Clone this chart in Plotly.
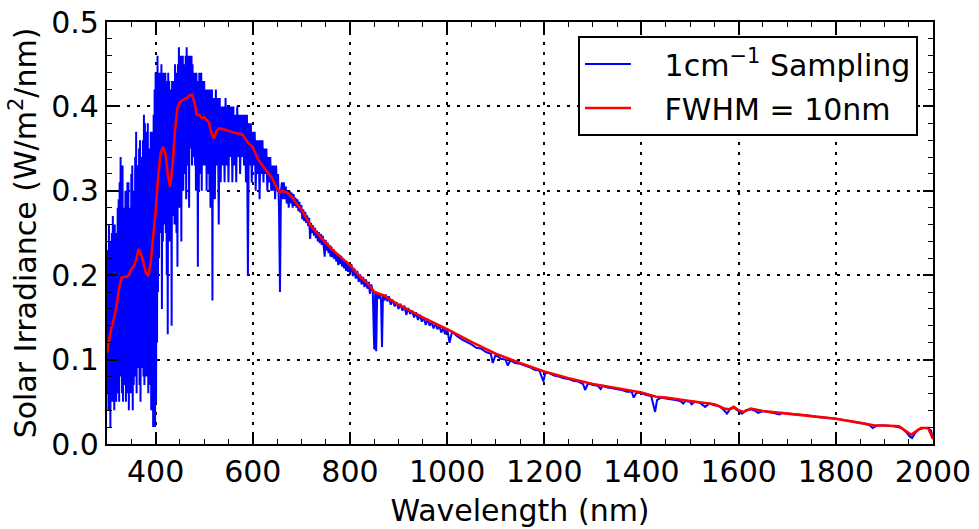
import numpy as np
import plotly.graph_objects as go

# ---- Data ----
# Blue (1 cm^-1 sampling), UV/blue part: one sample per nm, 300..519 nm
uv_wl = np.arange(300, 520, 1)
uv_val = [
    0.21, 0.06, 0.23, 0.04, 0.26, 0.08, 0.20, 0.02, 0.24, 0.06,
    0.25, 0.05, 0.27, 0.09, 0.22, 0.04, 0.26, 0.07, 0.24, 0.05,
    0.25, 0.08, 0.28, 0.06, 0.29, 0.05, 0.31, 0.09, 0.34, 0.08,
    0.30, 0.06, 0.33, 0.05, 0.28, 0.09, 0.27, 0.07, 0.30, 0.05,
    0.29, 0.08, 0.31, 0.06, 0.31, 0.04, 0.27, 0.09, 0.28, 0.06,
    0.32, 0.08, 0.33, 0.04, 0.29, 0.07, 0.30, 0.09, 0.34, 0.08,
    0.37, 0.06, 0.33, 0.10, 0.32, 0.09, 0.35, 0.07, 0.36, 0.05,
    0.34, 0.09, 0.33, 0.10, 0.36, 0.08, 0.39, 0.07, 0.38, 0.10,
    0.36, 0.08, 0.37, 0.10, 0.38, 0.06, 0.35, 0.09, 0.34, 0.07,
    0.37, 0.04, 0.35, 0.08, 0.37, 0.02, 0.39, 0.03, 0.42, 0.02,
    0.44, 0.05, 0.43, 0.12, 0.46, 0.18, 0.44, 0.22, 0.42, 0.25,
    0.44, 0.27, 0.45, 0.16, 0.43, 0.24, 0.44, 0.26, 0.43, 0.29,
    0.44, 0.25, 0.43, 0.20, 0.42, 0.13, 0.44, 0.25, 0.43, 0.24,
    0.41, 0.27, 0.42, 0.14, 0.43, 0.28, 0.41, 0.27, 0.43, 0.26,
    0.45, 0.30, 0.44, 0.25, 0.44, 0.21, 0.45, 0.28, 0.47, 0.30,
    0.45, 0.28, 0.46, 0.24, 0.45, 0.31, 0.46, 0.30, 0.44, 0.32,
    0.45, 0.33, 0.46, 0.29, 0.47, 0.33, 0.46, 0.34, 0.46, 0.28,
    0.46, 0.35, 0.45, 0.36, 0.46, 0.33, 0.45, 0.34, 0.44, 0.35,
    0.44, 0.33, 0.44, 0.30, 0.44, 0.34, 0.43, 0.21, 0.43, 0.30,
    0.44, 0.32, 0.43, 0.34, 0.44, 0.30, 0.43, 0.35, 0.43, 0.33,
    0.43, 0.34, 0.42, 0.33, 0.42, 0.30, 0.42, 0.34, 0.42, 0.32,
    0.42, 0.30, 0.42, 0.28, 0.41, 0.33, 0.42, 0.17, 0.41, 0.29,
]

# Blue, visible part: one sample every 2 nm, 520..698 nm
vis_wl = np.arange(520, 700, 2)
vis_val = [
    0.41, 0.29, 0.42, 0.33, 0.41, 0.26, 0.41, 0.31, 0.40, 0.33,
    0.40, 0.31, 0.41, 0.33, 0.40, 0.31, 0.40, 0.34, 0.40, 0.31,
    0.40, 0.33, 0.39, 0.31, 0.40, 0.34, 0.39, 0.32, 0.39, 0.34,
    0.39, 0.33, 0.39, 0.31, 0.39, 0.20, 0.38, 0.33, 0.38, 0.31,
    0.37, 0.33, 0.37, 0.30, 0.36, 0.32, 0.36, 0.29, 0.36, 0.32,
    0.36, 0.31, 0.35, 0.32, 0.35, 0.30, 0.34, 0.31, 0.34, 0.30,
    0.33, 0.30, 0.33, 0.29, 0.33, 0.30, 0.32, 0.28, 0.18, 0.30,
    0.31, 0.29, 0.31, 0.29, 0.305, 0.285, 0.30, 0.28, 0.30, 0.285,
    0.298, 0.28, 0.296, 0.282, 0.292, 0.28, 0.29, 0.276, 0.287, 0.274,
]

# Blue, near infrared: (wavelength nm, irradiance) samples incl. absorption lines
ir_pts = [
    (700, .283), (702, .266), (704, .278), (706, .264), (708, .275), (710, .262), (712, .271), (714, .258),
    (716, .268), (718, .243), (720, .262), (722, .250), (724, .259), (726, .247), (728, .256), (730, .244),
    (732, .253), (734, .240), (736, .251), (738, .238), (740, .249), (742, .236), (744, .247), (746, .234),
    (748, .222), (750, .242), (752, .229), (754, .239), (756, .226), (758, .236), (760, .222), (762, .234),
    (764, .221), (766, .231), (768, .219), (770, .228), (772, .216), (774, .226), (776, .212), (778, .224),
    (780, .213), (782, .223), (784, .210), (786, .220), (788, .208), (790, .218), (792, .205), (794, .216),
    (796, .204), (798, .214), (800, .202), (803, .213), (806, .199), (809, .208), (812, .196), (815, .205),
    (818, .192), (821, .201), (824, .189), (827, .198), (830, .186), (833, .195), (836, .184), (839, .192),
    (841, .178), (844, .189), (847, .180), (850, .112), (852, .181), (854, .110), (856, .178), (859, .172),
    (862, .178), (864, .170), (866, .115), (868, .177), (871, .170), (874, .177), (877, .169), (880, .175),
    (884, .165), (888, .171), (892, .163), (896, .168), (900, .160), (904, .166), (908, .158), (912, .164),
    (916, .153), (920, .161), (924, .154), (928, .158), (932, .150), (936, .156), (940, .147), (944, .153),
    (948, .145), (952, .150), (956, .141), (960, .148), (964, .140), (968, .145), (972, .137), (976, .143),
    (980, .136), (984, .140), (988, .132), (992, .138), (996, .130), (1000, .137), (1005, .120), (1010, .133),
    (1020, .128), (1030, .124), (1040, .121), (1050, .118), (1060, .114), (1070, .113), (1080, .109), (1090, .107),
    (1094, .096), (1100, .106), (1110, .101), (1120, .100), (1125, .093), (1130, .099), (1140, .096), (1150, .095),
    (1160, .093), (1170, .091), (1180, .088), (1190, .087), (1198, .074), (1202, .084), (1210, .084), (1220, .081),
    (1230, .080), (1240, .078), (1250, .077), (1260, .075), (1270, .074), (1280, .071), (1284, .064), (1290, .072),
    (1300, .070), (1310, .069), (1316, .065), (1320, .069), (1330, .067), (1340, .066), (1350, .065), (1360, .064),
    (1370, .062), (1380, .062), (1384, .055), (1390, .061), (1400, .060), (1410, .058), (1420, .057), (1428, .038),
    (1432, .052), (1440, .055), (1450, .054), (1460, .053), (1470, .052), (1480, .051), (1486, .048), (1490, .051),
    (1500, .050), (1503, .047), (1510, .050), (1520, .049), (1531, .044), (1540, .048), (1550, .046), (1560, .045),
    (1570, .040), (1576, .036), (1582, .041), (1590, .043), (1600, .039), (1607, .036), (1615, .040), (1625, .041),
    (1635, .039), (1640, .037), (1650, .039), (1660, .038), (1670, .037), (1684, .035), (1690, .037), (1700, .036),
    (1720, .035), (1740, .034), (1760, .032), (1780, .031), (1800, .030), (1820, .028), (1840, .026), (1860, .024),
    (1870, .022), (1876, .019), (1885, .022), (1900, .022), (1920, .021), (1935, .019), (1945, .014), (1952, .009),
    (1957, .007), (1962, .012), (1970, .017), (1980, .019), (1990, .019), (1996, .016), (2000, .006),
]

# Red (FWHM = 10 nm smoothed spectrum)
red_wl = [
    300, 305, 310, 315, 320, 325, 330, 335, 340, 345, 350, 355, 360, 365, 370, 375,
    380, 385, 390, 395, 400, 405, 410, 415, 420, 425, 430, 435, 440, 445, 450, 455,
    460, 465, 470, 475, 480, 485, 490, 495, 500, 505, 510, 515, 520, 525, 530, 540,
    550, 560, 570, 580, 590, 600, 610, 620, 630, 640, 650, 656, 660, 670, 680, 690,
    700, 720, 740, 760, 780, 800, 820, 840, 850, 860, 870, 900, 950, 1000, 1050, 1100,
    1150, 1200, 1250, 1300, 1350, 1400, 1430, 1450, 1500, 1550, 1570, 1580, 1590, 1600,
    1610, 1625, 1650, 1700, 1750, 1800, 1850, 1880, 1900, 1930, 1945, 1955, 1965, 1975,
    1990, 2000,
]
red_val = [
    0.108, 0.125, 0.140, 0.150, 0.165, 0.185, 0.197, 0.198, 0.198, 0.200, 0.207, 0.210, 0.218, 0.231, 0.225, 0.215,
    0.203, 0.199, 0.215, 0.245, 0.275, 0.315, 0.343, 0.352, 0.345, 0.320, 0.305, 0.330, 0.372, 0.398, 0.405, 0.407,
    0.409, 0.410, 0.413, 0.414, 0.405, 0.390, 0.390, 0.386, 0.387, 0.384, 0.381, 0.368, 0.362, 0.370, 0.374, 0.373,
    0.371, 0.369, 0.368, 0.366, 0.357, 0.352, 0.338, 0.330, 0.322, 0.315, 0.303, 0.298, 0.300, 0.298, 0.293, 0.285,
    0.278, 0.258, 0.245, 0.232, 0.222, 0.212, 0.199, 0.188, 0.180, 0.178, 0.176, 0.165, 0.150, 0.136, 0.121, 0.107,
    0.096, 0.086, 0.078, 0.071, 0.066, 0.061, 0.056, 0.055, 0.051, 0.047, 0.042, 0.041, 0.044, 0.040,
    0.038, 0.042, 0.039, 0.036, 0.033, 0.030, 0.025, 0.022, 0.022, 0.021, 0.015, 0.011, 0.015, 0.019,
    0.019, 0.006,
]

x_ticks = [400, 600, 800, 1000, 1200, 1400, 1600, 1800, 2000]
y_ticks = [0.0, 0.1, 0.2, 0.3, 0.4, 0.5]

blue_wl = list(uv_wl) + list(vis_wl) + [p[0] for p in ir_pts]
blue_val = list(uv_val) + list(vis_val) + [p[1] for p in ir_pts]

FONT = "DejaVu Sans"
FS = 30
NB = "\u00a0\u00a0\u00a0"

fig = go.Figure()
fig.add_trace(go.Scatter(
    x=blue_wl, y=blue_val, mode="lines",
    line=dict(color="#0000ff", width=2, simplify=False),
    name=NB + "1cm<sup>\u22121</sup> Sampling", legendgroup="a",
))
fig.add_trace(go.Scatter(
    x=red_wl, y=red_val, mode="lines",
    line=dict(color="#ff0000", width=2.6, simplify=False),
    name=NB + "FWHM = 10nm", legendgroup="b",
))

axis_common = dict(
    showline=True, linecolor="black", linewidth=2.2, mirror="allticks",
    ticks="inside", ticklen=10, tickwidth=1.5, tickcolor="black",
    showgrid=True, gridcolor="black", gridwidth=1.5, griddash="3px,7px",
    zeroline=False, automargin=False,
    tickfont=dict(family=FONT, size=FS, color="black"),
)

fig.update_xaxes(
    range=[300, 2000], tickvals=x_ticks, ticktext=[str(v) for v in x_ticks],
    title=dict(text="Wavelength (nm)", font=dict(family=FONT, size=FS, color="black"), standoff=12),
    minor=dict(dtick=50, tick0=0, ticks="inside", ticklen=5, tickwidth=1.2, tickcolor="black", showgrid=False),
    **axis_common,
)
fig.update_yaxes(
    range=[0, 0.5], tickvals=y_ticks, ticktext=["%.1f" % v for v in y_ticks],
    title=dict(text="Solar Irradiance (W/m<sup>2</sup>/nm)", font=dict(family=FONT, size=FS, color="black"), standoff=6),
    minor=dict(dtick=0.02, tick0=0, ticks="inside", ticklen=5, tickwidth=1.2, tickcolor="black", showgrid=False),
    **axis_common,
)

fig.update_layout(
    width=979, height=529,
    margin=dict(l=107, r=46, t=22, b=85),
    paper_bgcolor="white", plot_bgcolor="white",
    font=dict(family=FONT, size=FS, color="black"),
    showlegend=True,
    legend=dict(
        x=0.9818, y=0.967, xanchor="right", yanchor="top",
        bgcolor="white", bordercolor="black", borderwidth=2,
        font=dict(family=FONT, size=FS, color="black"),
        itemwidth=46, tracegroupgap=2,
    ),
)

fig.write_html(
    "out.html",
    config={"displayModeBar": False},
    post_script="document.body.style.margin='0px';document.body.style.padding='0px';document.body.style.overflow='hidden';",
)
